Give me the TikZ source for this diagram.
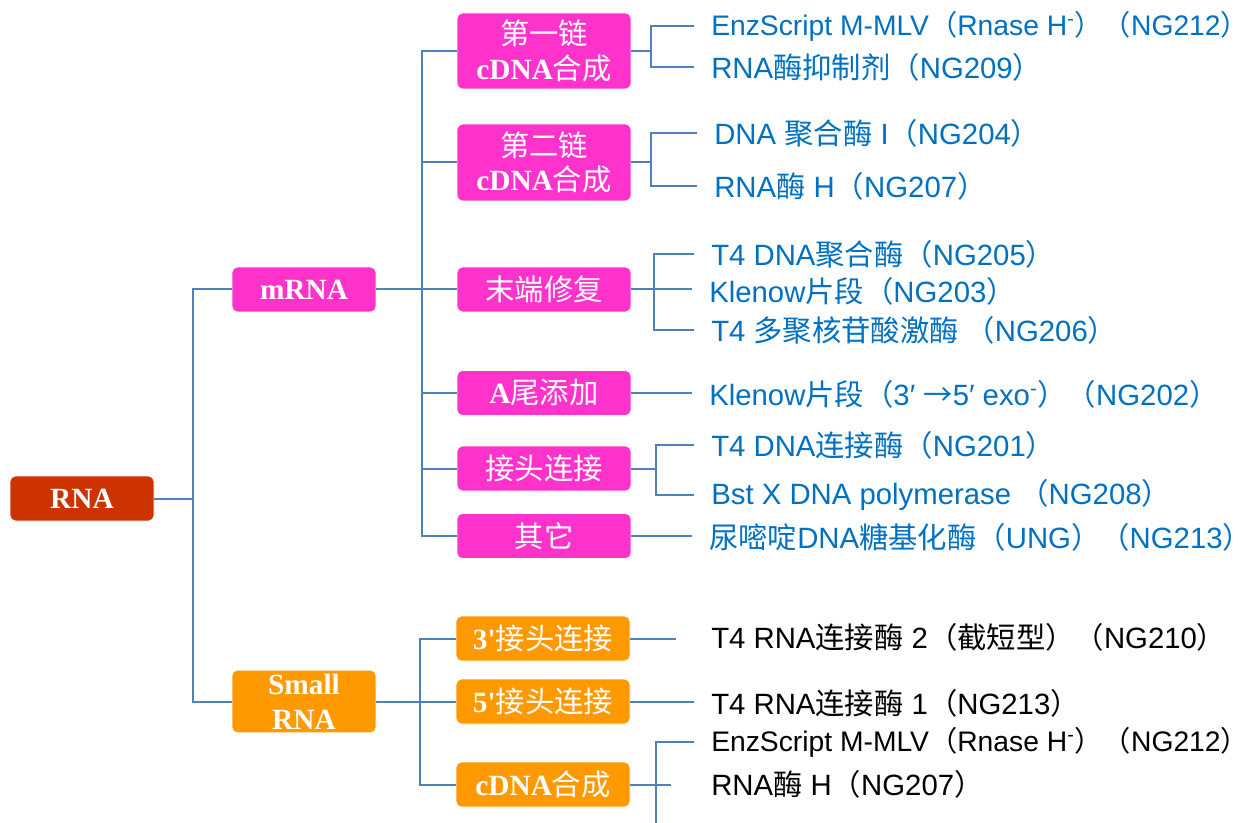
\documentclass[tikz,border=0pt]{standalone}
\usepackage{fontspec}
\setmainfont{Liberation Sans}
\newfontfamily\cjk{Noto Sans CJK SC}
\newfontfamily\tnr{Liberation Serif}
\newcommand\zhs[1]{{\cjk #1}}
\newcommand\zhb[1]{{\cjk\mdseries #1}}
\definecolor{lineblue}{HTML}{4F81BD}
\definecolor{txtblue}{HTML}{0070C0}
\definecolor{mag}{HTML}{FF33CC}
\definecolor{rnared}{HTML}{CC3300}
\definecolor{org}{HTML}{FF9900}
\tikzset{
  conn/.style={draw=lineblue, line width=1.5pt},
  tconn/.style={conn, shorten >=13pt},
  box/.style={rounded corners=4pt, inner sep=0pt, text=white, align=center,
     font=\tnr\bfseries\fontsize{22}{26}\selectfont, draw=white, line width=0.6pt},
  rootbox/.style={box, fill=rnared, minimum width=108pt, minimum height=33.75pt},
  midbox/.style={box, minimum width=108pt, minimum height=33.75pt},
  leafbox/.style={box, minimum width=130.5pt, minimum height=33.75pt},
  lbl/.style={anchor=west, inner sep=0pt, text=txtblue,
     font=\fontsize{22}{26}\selectfont},
  lblk/.style={lbl, text=black},
  longlbl/.style={font=\fontsize{21.2}{25}\selectfont}
}
\begin{document}
\begin{tikzpicture}[x=0.75pt, y=-0.75pt]
\useasboundingbox (0,0) rectangle (1260,823);
% level 0 / 1
\node[rootbox] (RNA) at (82,498.5) {RNA};
\node[midbox, fill=mag] (mRNA) at (304,289.5) {mRNA};
\node[midbox, fill=org, minimum height=47pt] (small) at (304,701.5) {Small\\RNA};
% magenta boxes
\node[leafbox, fill=mag, minimum height=57pt] (b1) at (544,51) {\zhb{第一链}\\cDNA\zhb{合成}};
\node[leafbox, fill=mag, minimum height=57.75pt] (b2) at (544,162.5) {\zhb{第二链}\\cDNA\zhb{合成}};
\node[leafbox, fill=mag] (b3) at (544,289.5) {\zhb{末端修复}};
\node[leafbox, fill=mag] (b4) at (544,393) {A\zhb{尾添加}};
\node[leafbox, fill=mag] (b5) at (544,468.5) {\zhb{接头连接}};
\node[leafbox, fill=mag] (b6) at (544,536) {\zhb{其它}};
% orange boxes
\node[leafbox, fill=org] (o1) at (543,638.5) {3'\zhb{接头连接}};
\node[leafbox, fill=org] (o2) at (543,701.5) {5'\zhb{接头连接}};
\node[leafbox, fill=org] (o3) at (543,784.5) {cDNA\zhb{合成}};
% labels
\node[lbl, longlbl] (t11) at (711,26) {EnzScript M-MLV\zhs{（}Rnase H\textsuperscript{-}\zhs{）（}NG212\zhs{）}};
\node[lbl] (t12) at (711,67) {RNA\zhs{酶抑制剂（}NG209\zhs{）}};
\node[lbl] (t21) at (714,133) {DNA \zhs{聚合酶} I\zhs{（}NG204\zhs{）}};
\node[lbl] (t22) at (714,186) {RNA\zhs{酶} H\zhs{（}NG207\zhs{）}};
\node[lbl] (t31) at (711,254) {T4 DNA\zhs{聚合酶（}NG205\zhs{）}};
\node[lbl] (t32) at (709,291) {Klenow\zhs{片段（}NG203\zhs{）}};
\node[lbl] (t33) at (711,330) {T4 \zhs{多聚核苷酸激酶 （}NG206\zhs{）}};
\node[lbl] (t4) at (709,394) {Klenow\zhs{片段（}3′ \zhs{→}5′ exo\textsuperscript{-}\zhs{）（}NG202\zhs{）}};
\node[lbl] (t51) at (711,445) {T4 DNA\zhs{连接酶（}NG201\zhs{）}};
\node[lbl] (t52) at (711,495) {Bst X DNA polymerase \zhs{（}NG208\zhs{）}};
\node[lbl] (t6) at (709,537) {\zhs{尿嘧啶}DNA\zhs{糖基化酶（}UNG\zhs{）（}NG213\zhs{）}};
\node[lblk] (s1) at (711,637) {T4 RNA\zhs{连接酶} 2\zhs{（截短型）（}NG210\zhs{）}};
\node[lblk] (s2) at (711,703) {T4 RNA\zhs{连接酶} 1\zhs{（}NG213\zhs{）}};
\node[lblk, longlbl] (s31) at (711,742) {EnzScript M-MLV\zhs{（}Rnase H\textsuperscript{-}\zhs{）（}NG212\zhs{）}};
\node[lblk] (s32) at (711,784) {RNA\zhs{酶} H\zhs{（}NG207\zhs{）}};
% trunk coordinates
\coordinate (v0) at (193,0);
\coordinate (v1) at (422,0);
\coordinate (v2) at (420,0);
\coordinate (g1) at (651,0);
\coordinate (g3) at (654,0);
\coordinate (g5) at (656,0);
\coordinate (bot) at (656,823);
% connectors level 0-1
\draw[conn] (RNA.east) -- (RNA.east -| v0);
\draw[conn] (mRNA.west) -| (v0 |- small.west) -- (small.west);
% mRNA
\draw[conn] (mRNA.east) -- (mRNA.east -| v1);
\draw[conn] (b1.west) -| (v1 |- b6.west) -- (b6.west);
\foreach \b in {b2,b3,b4,b5} \draw[conn] (v1 |- \b.west) -- (\b.west);
% Small RNA
\draw[conn] (small.east) -- (small.east -| v2);
\draw[conn] (o1.west) -| (v2 |- o3.west) -- (o3.west);
\draw[conn] (v2 |- o2.west) -- (o2.west);
% group 1
\draw[conn] (b1.east) -- (b1.east -| g1);
\draw[conn, shorten <=13pt, shorten >=13pt] (t11.west) -| (g1 |- t12.west) -- (t12.west);
% group 2
\draw[conn] (b2.east) -- (b2.east -| g1);
\draw[conn, shorten <=13pt, shorten >=13pt] (t21.west) -| (g1 |- t22.west) -- (t22.west);
% group 3
\draw[tconn] (b3.east) -- (b3.east -| t32.west);
\draw[conn, shorten <=13pt, shorten >=13pt] (t31.west) -| (g3 |- t33.west) -- (t33.west);
% A tail
\draw[tconn] (b4.east) -- (b4.east -| t4.west);
% group 5
\draw[conn] (b5.east) -- (b5.east -| g5);
\draw[conn, shorten <=13pt, shorten >=13pt] (t51.west) -| (g5 |- t52.west) -- (t52.west);
% others
\draw[tconn] (b6.east) -- (b6.east -| t6.west);
% small RNA leaves
\draw[conn] (o1.east) -- ++(46,0);
\draw[tconn] (o2.east) -- (o2.east -| s2.west);
\draw[conn] (o3.east) -- ++(41,0);
\draw[tconn] (bot) |- (s31.west);
\end{tikzpicture}
\end{document}
